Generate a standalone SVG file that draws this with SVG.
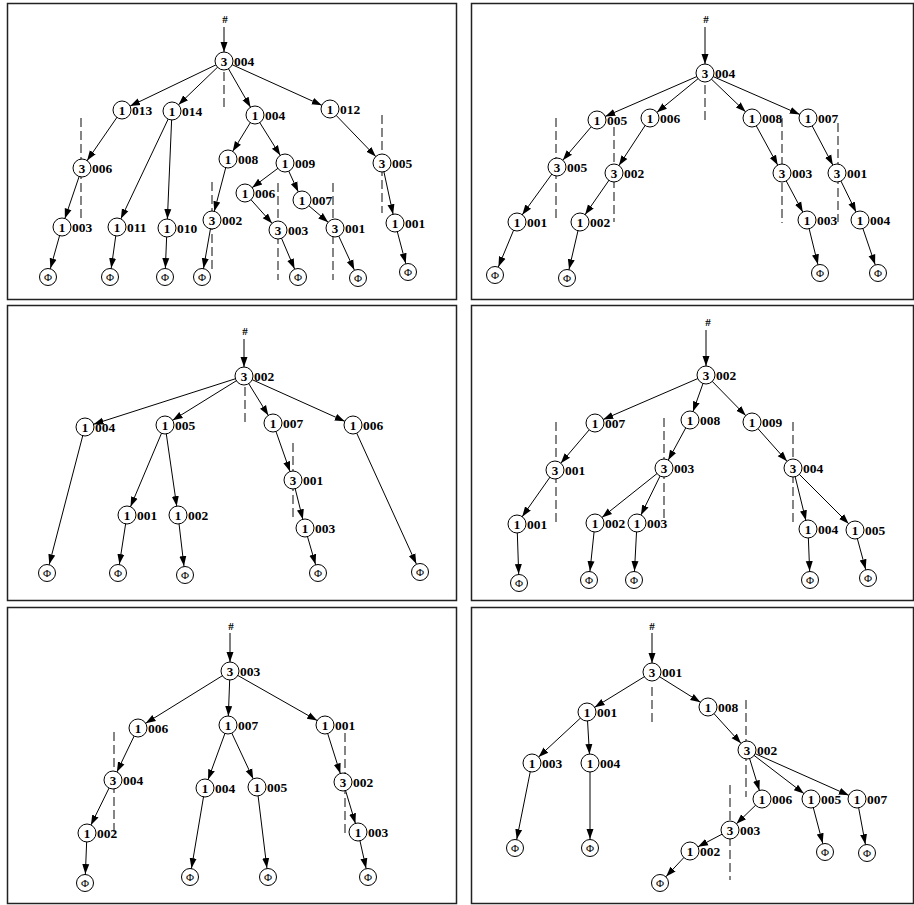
<svg xmlns="http://www.w3.org/2000/svg" width="914" height="905" viewBox="0 0 914 905">
<style>
.bg{fill:#fff}
.pan{fill:#fff;stroke:#222;stroke-width:1.5}
.e{stroke:#000;stroke-width:1;fill:none;marker-end:url(#ah)}
.d{stroke:#222;stroke-width:1.1;fill:none;stroke-dasharray:9,4}
circle{fill:#fff;stroke:#000;stroke-width:1}
.c{font-family:"Liberation Serif",serif;font-weight:bold;font-size:13px;text-anchor:middle}
.l{font-family:"Liberation Serif",serif;font-weight:bold;font-size:13.5px}
.h{font-family:"Liberation Serif",serif;font-weight:bold;font-size:11px;text-anchor:middle;fill:#000}
.f{font-family:"Liberation Serif",serif;font-size:11px;text-anchor:middle}
</style>
<defs>
<marker id="ah" markerUnits="userSpaceOnUse" markerWidth="30" markerHeight="10" viewBox="0 0 30 10" refX="19" refY="5" orient="auto"><path d="M0,1.5 L10,5 L0,8.5 z" fill="#000"/></marker>
</defs>
<rect class="bg" x="0" y="0" width="914" height="905"/>
<g id="panels">
<rect class="pan" x="7.5" y="3.5" width="449" height="296"/>
<rect class="pan" x="471.5" y="3.5" width="442" height="296"/>
<rect class="pan" x="7.5" y="305.5" width="449" height="295"/>
<rect class="pan" x="471.5" y="305.5" width="442" height="295"/>
<rect class="pan" x="7.5" y="607.5" width="449" height="296"/>
<rect class="pan" x="471.5" y="607.5" width="442" height="296"/>
</g>
<g id="connectors">
<!-- TL -->
<line class="e" x1="224" y1="27" x2="224" y2="61"/>
<line class="e" x1="224" y1="61" x2="122" y2="110"/>
<line class="e" x1="224" y1="61" x2="172" y2="111"/>
<line class="e" x1="224" y1="61" x2="255" y2="115"/>
<line class="e" x1="224" y1="61" x2="330" y2="109"/>
<line class="e" x1="122" y1="110" x2="82" y2="168"/>
<line class="e" x1="82" y1="168" x2="62" y2="227"/>
<line class="e" x1="62" y1="227" x2="48" y2="277"/>
<line class="e" x1="172" y1="111" x2="117" y2="227"/>
<line class="e" x1="172" y1="111" x2="167" y2="228"/>
<line class="e" x1="117" y1="227" x2="110" y2="277"/>
<line class="e" x1="167" y1="228" x2="165" y2="277"/>
<line class="e" x1="255" y1="115" x2="228" y2="159"/>
<line class="e" x1="255" y1="115" x2="285" y2="163"/>
<line class="e" x1="228" y1="159" x2="212" y2="220"/>
<line class="e" x1="212" y1="220" x2="202" y2="277"/>
<line class="e" x1="285" y1="163" x2="245" y2="193"/>
<line class="e" x1="285" y1="163" x2="302" y2="200"/>
<line class="e" x1="245" y1="193" x2="278" y2="230"/>
<line class="e" x1="278" y1="230" x2="298" y2="277"/>
<line class="e" x1="302" y1="200" x2="335" y2="228"/>
<line class="e" x1="335" y1="228" x2="358" y2="278"/>
<line class="e" x1="330" y1="109" x2="382" y2="163"/>
<line class="e" x1="382" y1="163" x2="395" y2="223"/>
<line class="e" x1="395" y1="223" x2="408" y2="272"/>
<line class="d" x1="224" y1="72" x2="224" y2="110"/>
<line class="d" x1="81" y1="118" x2="81" y2="220"/>
<line class="d" x1="212" y1="182" x2="212" y2="273"/>
<line class="d" x1="278" y1="183" x2="278" y2="280"/>
<line class="d" x1="333" y1="183" x2="333" y2="280"/>
<line class="d" x1="382" y1="115" x2="382" y2="213"/>
<!-- TR -->
<line class="e" x1="705" y1="27" x2="705" y2="73"/>
<line class="e" x1="705" y1="73" x2="597" y2="120"/>
<line class="e" x1="705" y1="73" x2="650" y2="118"/>
<line class="e" x1="705" y1="73" x2="752" y2="118"/>
<line class="e" x1="705" y1="73" x2="808" y2="118"/>
<line class="e" x1="597" y1="120" x2="557" y2="167"/>
<line class="e" x1="557" y1="167" x2="517" y2="222"/>
<line class="e" x1="517" y1="222" x2="495" y2="275"/>
<line class="e" x1="650" y1="118" x2="614" y2="173"/>
<line class="e" x1="614" y1="173" x2="580" y2="222"/>
<line class="e" x1="580" y1="222" x2="567" y2="278"/>
<line class="e" x1="752" y1="118" x2="782" y2="173"/>
<line class="e" x1="782" y1="173" x2="807" y2="220"/>
<line class="e" x1="807" y1="220" x2="820" y2="273"/>
<line class="e" x1="808" y1="118" x2="837" y2="173"/>
<line class="e" x1="837" y1="173" x2="860" y2="220"/>
<line class="e" x1="860" y1="220" x2="878" y2="273"/>
<line class="d" x1="705" y1="85" x2="705" y2="123"/>
<line class="d" x1="556" y1="118" x2="556" y2="220"/>
<line class="d" x1="614" y1="127" x2="614" y2="222"/>
<line class="d" x1="782" y1="118" x2="782" y2="223"/>
<line class="d" x1="838" y1="123" x2="838" y2="222"/>
<!-- ML -->
<line class="e" x1="244" y1="339" x2="244" y2="376"/>
<line class="e" x1="244" y1="376" x2="85" y2="427"/>
<line class="e" x1="244" y1="376" x2="165" y2="425"/>
<line class="e" x1="244" y1="376" x2="273" y2="423"/>
<line class="e" x1="244" y1="376" x2="353" y2="425"/>
<line class="e" x1="85" y1="427" x2="47" y2="573"/>
<line class="e" x1="165" y1="425" x2="127" y2="515"/>
<line class="e" x1="165" y1="425" x2="178" y2="515"/>
<line class="e" x1="127" y1="515" x2="118" y2="573"/>
<line class="e" x1="178" y1="515" x2="185" y2="575"/>
<line class="e" x1="273" y1="423" x2="293" y2="480"/>
<line class="e" x1="293" y1="480" x2="305" y2="528"/>
<line class="e" x1="305" y1="528" x2="318" y2="573"/>
<line class="e" x1="353" y1="425" x2="420" y2="572"/>
<line class="d" x1="245" y1="387" x2="245" y2="425"/>
<line class="d" x1="293" y1="443" x2="293" y2="518"/>
<!-- MR -->
<line class="e" x1="706" y1="330" x2="706" y2="375"/>
<line class="e" x1="706" y1="375" x2="595" y2="423"/>
<line class="e" x1="706" y1="375" x2="690" y2="420"/>
<line class="e" x1="706" y1="375" x2="752" y2="422"/>
<line class="e" x1="595" y1="423" x2="555" y2="470"/>
<line class="e" x1="555" y1="470" x2="517" y2="524"/>
<line class="e" x1="517" y1="524" x2="519" y2="583"/>
<line class="e" x1="690" y1="420" x2="664" y2="468"/>
<line class="e" x1="664" y1="468" x2="595" y2="523"/>
<line class="e" x1="664" y1="468" x2="637" y2="523"/>
<line class="e" x1="595" y1="523" x2="589" y2="580"/>
<line class="e" x1="637" y1="523" x2="634" y2="580"/>
<line class="e" x1="752" y1="422" x2="793" y2="468"/>
<line class="e" x1="793" y1="468" x2="808" y2="529"/>
<line class="e" x1="793" y1="468" x2="855" y2="530"/>
<line class="e" x1="808" y1="529" x2="810" y2="580"/>
<line class="e" x1="855" y1="530" x2="868" y2="578"/>
<line class="d" x1="556" y1="422" x2="556" y2="522"/>
<line class="d" x1="664" y1="418" x2="664" y2="522"/>
<line class="d" x1="793" y1="422" x2="793" y2="522"/>
<!-- BL -->
<line class="e" x1="230" y1="633" x2="230" y2="671"/>
<line class="e" x1="230" y1="671" x2="138" y2="728"/>
<line class="e" x1="230" y1="671" x2="228" y2="725"/>
<line class="e" x1="230" y1="671" x2="325" y2="725"/>
<line class="e" x1="138" y1="728" x2="113" y2="780"/>
<line class="e" x1="113" y1="780" x2="87" y2="833"/>
<line class="e" x1="87" y1="833" x2="85" y2="883"/>
<line class="e" x1="228" y1="725" x2="205" y2="788"/>
<line class="e" x1="228" y1="725" x2="257" y2="787"/>
<line class="e" x1="205" y1="788" x2="190" y2="877"/>
<line class="e" x1="257" y1="787" x2="268" y2="877"/>
<line class="e" x1="325" y1="725" x2="343" y2="782"/>
<line class="e" x1="343" y1="782" x2="358" y2="832"/>
<line class="e" x1="358" y1="832" x2="368" y2="877"/>
<line class="d" x1="114" y1="732" x2="114" y2="833"/>
<line class="d" x1="345" y1="733" x2="345" y2="833"/>
<!-- BR -->
<line class="e" x1="652" y1="633" x2="652" y2="672"/>
<line class="e" x1="652" y1="672" x2="587" y2="712"/>
<line class="e" x1="652" y1="672" x2="708" y2="707"/>
<line class="e" x1="587" y1="712" x2="532" y2="763"/>
<line class="e" x1="587" y1="712" x2="590" y2="763"/>
<line class="e" x1="532" y1="763" x2="515" y2="848"/>
<line class="e" x1="590" y1="763" x2="590" y2="848"/>
<line class="e" x1="708" y1="707" x2="747" y2="750"/>
<line class="e" x1="747" y1="750" x2="762" y2="799"/>
<line class="e" x1="747" y1="750" x2="811" y2="799"/>
<line class="e" x1="747" y1="750" x2="857" y2="799"/>
<line class="e" x1="762" y1="799" x2="730" y2="830"/>
<line class="e" x1="730" y1="830" x2="690" y2="851"/>
<line class="e" x1="690" y1="851" x2="660" y2="883"/>
<line class="e" x1="811" y1="799" x2="825" y2="852"/>
<line class="e" x1="857" y1="799" x2="867" y2="853"/>
<line class="d" x1="652" y1="687" x2="652" y2="723"/>
<line class="d" x1="746" y1="700" x2="746" y2="797"/>
<line class="d" x1="730" y1="785" x2="730" y2="880"/>
</g>
<g id="hashes">
<text class="h" x="225" y="23">#</text>
<text class="h" x="706" y="23">#</text>
<text class="h" x="245" y="335">#</text>
<text class="h" x="708" y="326">#</text>
<text class="h" x="231" y="630">#</text>
<text class="h" x="652" y="630">#</text>
</g>
<!-- TL nodes -->
<g id="tl-a"><circle cx="224" cy="61" r="9"/><text class="c" x="224" y="65.5">3</text><text class="l" x="234" y="65.5">004</text></g>
<g id="tl-b"><circle cx="122" cy="110" r="9"/><text class="c" x="122" y="114.5">1</text><text class="l" x="132" y="114.5">013</text></g>
<g id="tl-c"><circle cx="172" cy="111" r="9"/><text class="c" x="172" y="115.5">1</text><text class="l" x="182" y="115.5">014</text></g>
<g id="tl-d"><circle cx="255" cy="115" r="9"/><text class="c" x="255" y="119.5">1</text><text class="l" x="265" y="119.5">004</text></g>
<g id="tl-e"><circle cx="330" cy="109" r="9"/><text class="c" x="330" y="113.5">1</text><text class="l" x="340" y="113.5">012</text></g>
<g id="tl-f"><circle cx="82" cy="168" r="9"/><text class="c" x="82" y="172.5">3</text><text class="l" x="92" y="172.5">006</text></g>
<g id="tl-g"><circle cx="228" cy="159" r="9"/><text class="c" x="228" y="163.5">1</text><text class="l" x="238" y="163.5">008</text></g>
<g id="tl-h"><circle cx="285" cy="163" r="9"/><text class="c" x="285" y="167.5">1</text><text class="l" x="295" y="167.5">009</text></g>
<g id="tl-i"><circle cx="382" cy="163" r="9"/><text class="c" x="382" y="167.5">3</text><text class="l" x="392" y="167.5">005</text></g>
<g id="tl-j"><circle cx="245" cy="193" r="9"/><text class="c" x="245" y="197.5">1</text><text class="l" x="255" y="197.5">006</text></g>
<g id="tl-k"><circle cx="302" cy="200" r="9"/><text class="c" x="302" y="204.5">1</text><text class="l" x="312" y="204.5">007</text></g>
<g id="tl-l"><circle cx="212" cy="220" r="9"/><text class="c" x="212" y="224.5">3</text><text class="l" x="222" y="224.5">002</text></g>
<g id="tl-m"><circle cx="278" cy="230" r="9"/><text class="c" x="278" y="234.5">3</text><text class="l" x="288" y="234.5">003</text></g>
<g id="tl-n"><circle cx="335" cy="228" r="9"/><text class="c" x="335" y="232.5">3</text><text class="l" x="345" y="232.5">001</text></g>
<g id="tl-o"><circle cx="395" cy="223" r="9"/><text class="c" x="395" y="227.5">1</text><text class="l" x="405" y="227.5">001</text></g>
<g id="tl-p"><circle cx="62" cy="227" r="9"/><text class="c" x="62" y="231.5">1</text><text class="l" x="72" y="231.5">003</text></g>
<g id="tl-q"><circle cx="117" cy="227" r="9"/><text class="c" x="117" y="231.5">1</text><text class="l" x="127" y="231.5">011</text></g>
<g id="tl-r"><circle cx="167" cy="228" r="9"/><text class="c" x="167" y="232.5">1</text><text class="l" x="177" y="232.5">010</text></g>
<g id="tl-z1"><circle cx="48" cy="277" r="8.5"/><text class="f" x="48" y="281">Φ</text></g>
<g id="tl-z2"><circle cx="110" cy="277" r="8.5"/><text class="f" x="110" y="281">Φ</text></g>
<g id="tl-z3"><circle cx="165" cy="277" r="8.5"/><text class="f" x="165" y="281">Φ</text></g>
<g id="tl-z4"><circle cx="202" cy="277" r="8.5"/><text class="f" x="202" y="281">Φ</text></g>
<g id="tl-z5"><circle cx="298" cy="277" r="8.5"/><text class="f" x="298" y="281">Φ</text></g>
<g id="tl-z6"><circle cx="358" cy="278" r="8.5"/><text class="f" x="358" y="282">Φ</text></g>
<g id="tl-z7"><circle cx="408" cy="272" r="8.5"/><text class="f" x="408" y="276">Φ</text></g>
<!-- TR nodes -->
<g id="tr-a"><circle cx="705" cy="73" r="9"/><text class="c" x="705" y="77.5">3</text><text class="l" x="715" y="77.5">004</text></g>
<g id="tr-b"><circle cx="597" cy="120" r="9"/><text class="c" x="597" y="124.5">1</text><text class="l" x="607" y="124.5">005</text></g>
<g id="tr-c"><circle cx="650" cy="118" r="9"/><text class="c" x="650" y="122.5">1</text><text class="l" x="660" y="122.5">006</text></g>
<g id="tr-d"><circle cx="752" cy="118" r="9"/><text class="c" x="752" y="122.5">1</text><text class="l" x="762" y="122.5">008</text></g>
<g id="tr-e"><circle cx="808" cy="118" r="9"/><text class="c" x="808" y="122.5">1</text><text class="l" x="818" y="122.5">007</text></g>
<g id="tr-f"><circle cx="557" cy="167" r="9"/><text class="c" x="557" y="171.5">3</text><text class="l" x="567" y="171.5">005</text></g>
<g id="tr-g"><circle cx="614" cy="173" r="9"/><text class="c" x="614" y="177.5">3</text><text class="l" x="624" y="177.5">002</text></g>
<g id="tr-h"><circle cx="782" cy="173" r="9"/><text class="c" x="782" y="177.5">3</text><text class="l" x="792" y="177.5">003</text></g>
<g id="tr-i"><circle cx="837" cy="173" r="9"/><text class="c" x="837" y="177.5">3</text><text class="l" x="847" y="177.5">001</text></g>
<g id="tr-j"><circle cx="517" cy="222" r="9"/><text class="c" x="517" y="226.5">1</text><text class="l" x="527" y="226.5">001</text></g>
<g id="tr-k"><circle cx="580" cy="222" r="9"/><text class="c" x="580" y="226.5">1</text><text class="l" x="590" y="226.5">002</text></g>
<g id="tr-l"><circle cx="807" cy="220" r="9"/><text class="c" x="807" y="224.5">1</text><text class="l" x="817" y="224.5">003</text></g>
<g id="tr-m"><circle cx="860" cy="220" r="9"/><text class="c" x="860" y="224.5">1</text><text class="l" x="870" y="224.5">004</text></g>
<g id="tr-z1"><circle cx="495" cy="275" r="8.5"/><text class="f" x="495" y="279">Φ</text></g>
<g id="tr-z2"><circle cx="567" cy="278" r="8.5"/><text class="f" x="567" y="282">Φ</text></g>
<g id="tr-z3"><circle cx="820" cy="273" r="8.5"/><text class="f" x="820" y="277">Φ</text></g>
<g id="tr-z4"><circle cx="878" cy="273" r="8.5"/><text class="f" x="878" y="277">Φ</text></g>
<!-- ML nodes -->
<g id="ml-a"><circle cx="244" cy="376" r="9"/><text class="c" x="244" y="380.5">3</text><text class="l" x="254" y="380.5">002</text></g>
<g id="ml-b"><circle cx="85" cy="427" r="9"/><text class="c" x="85" y="431.5">1</text><text class="l" x="95" y="431.5">004</text></g>
<g id="ml-c"><circle cx="165" cy="425" r="9"/><text class="c" x="165" y="429.5">1</text><text class="l" x="175" y="429.5">005</text></g>
<g id="ml-d"><circle cx="273" cy="423" r="9"/><text class="c" x="273" y="427.5">1</text><text class="l" x="283" y="427.5">007</text></g>
<g id="ml-e"><circle cx="353" cy="425" r="9"/><text class="c" x="353" y="429.5">1</text><text class="l" x="363" y="429.5">006</text></g>
<g id="ml-f"><circle cx="293" cy="480" r="9"/><text class="c" x="293" y="484.5">3</text><text class="l" x="303" y="484.5">001</text></g>
<g id="ml-g"><circle cx="127" cy="515" r="9"/><text class="c" x="127" y="519.5">1</text><text class="l" x="137" y="519.5">001</text></g>
<g id="ml-h"><circle cx="178" cy="515" r="9"/><text class="c" x="178" y="519.5">1</text><text class="l" x="188" y="519.5">002</text></g>
<g id="ml-i"><circle cx="305" cy="528" r="9"/><text class="c" x="305" y="532.5">1</text><text class="l" x="315" y="532.5">003</text></g>
<g id="ml-z1"><circle cx="47" cy="573" r="8.5"/><text class="f" x="47" y="577">Φ</text></g>
<g id="ml-z2"><circle cx="118" cy="573" r="8.5"/><text class="f" x="118" y="577">Φ</text></g>
<g id="ml-z3"><circle cx="185" cy="575" r="8.5"/><text class="f" x="185" y="579">Φ</text></g>
<g id="ml-z4"><circle cx="318" cy="573" r="8.5"/><text class="f" x="318" y="577">Φ</text></g>
<g id="ml-z5"><circle cx="420" cy="572" r="8.5"/><text class="f" x="420" y="576">Φ</text></g>
<!-- MR nodes -->
<g id="mr-a"><circle cx="706" cy="375" r="9"/><text class="c" x="706" y="379.5">3</text><text class="l" x="716" y="379.5">002</text></g>
<g id="mr-b"><circle cx="595" cy="423" r="9"/><text class="c" x="595" y="427.5">1</text><text class="l" x="605" y="427.5">007</text></g>
<g id="mr-c"><circle cx="690" cy="420" r="9"/><text class="c" x="690" y="424.5">1</text><text class="l" x="700" y="424.5">008</text></g>
<g id="mr-d"><circle cx="752" cy="422" r="9"/><text class="c" x="752" y="426.5">1</text><text class="l" x="762" y="426.5">009</text></g>
<g id="mr-e"><circle cx="555" cy="470" r="9"/><text class="c" x="555" y="474.5">3</text><text class="l" x="565" y="474.5">001</text></g>
<g id="mr-f"><circle cx="664" cy="468" r="9"/><text class="c" x="664" y="472.5">3</text><text class="l" x="674" y="472.5">003</text></g>
<g id="mr-g"><circle cx="793" cy="468" r="9"/><text class="c" x="793" y="472.5">3</text><text class="l" x="803" y="472.5">004</text></g>
<g id="mr-h"><circle cx="517" cy="524" r="9"/><text class="c" x="517" y="528.5">1</text><text class="l" x="527" y="528.5">001</text></g>
<g id="mr-i"><circle cx="595" cy="523" r="9"/><text class="c" x="595" y="527.5">1</text><text class="l" x="605" y="527.5">002</text></g>
<g id="mr-j"><circle cx="637" cy="523" r="9"/><text class="c" x="637" y="527.5">1</text><text class="l" x="647" y="527.5">003</text></g>
<g id="mr-k"><circle cx="808" cy="529" r="9"/><text class="c" x="808" y="533.5">1</text><text class="l" x="818" y="533.5">004</text></g>
<g id="mr-l"><circle cx="855" cy="530" r="9"/><text class="c" x="855" y="534.5">1</text><text class="l" x="865" y="534.5">005</text></g>
<g id="mr-z1"><circle cx="519" cy="583" r="8.5"/><text class="f" x="519" y="587">Φ</text></g>
<g id="mr-z2"><circle cx="589" cy="580" r="8.5"/><text class="f" x="589" y="584">Φ</text></g>
<g id="mr-z3"><circle cx="634" cy="580" r="8.5"/><text class="f" x="634" y="584">Φ</text></g>
<g id="mr-z4"><circle cx="810" cy="580" r="8.5"/><text class="f" x="810" y="584">Φ</text></g>
<g id="mr-z5"><circle cx="868" cy="578" r="8.5"/><text class="f" x="868" y="582">Φ</text></g>
<!-- BL nodes -->
<g id="bl-a"><circle cx="230" cy="671" r="9"/><text class="c" x="230" y="675.5">3</text><text class="l" x="240" y="675.5">003</text></g>
<g id="bl-b"><circle cx="138" cy="728" r="9"/><text class="c" x="138" y="732.5">1</text><text class="l" x="148" y="732.5">006</text></g>
<g id="bl-c"><circle cx="228" cy="725" r="9"/><text class="c" x="228" y="729.5">1</text><text class="l" x="238" y="729.5">007</text></g>
<g id="bl-d"><circle cx="325" cy="725" r="9"/><text class="c" x="325" y="729.5">1</text><text class="l" x="335" y="729.5">001</text></g>
<g id="bl-e"><circle cx="113" cy="780" r="9"/><text class="c" x="113" y="784.5">3</text><text class="l" x="123" y="784.5">004</text></g>
<g id="bl-f"><circle cx="205" cy="788" r="9"/><text class="c" x="205" y="792.5">1</text><text class="l" x="215" y="792.5">004</text></g>
<g id="bl-g"><circle cx="257" cy="787" r="9"/><text class="c" x="257" y="791.5">1</text><text class="l" x="267" y="791.5">005</text></g>
<g id="bl-h"><circle cx="343" cy="782" r="9"/><text class="c" x="343" y="786.5">3</text><text class="l" x="353" y="786.5">002</text></g>
<g id="bl-i"><circle cx="87" cy="833" r="9"/><text class="c" x="87" y="837.5">1</text><text class="l" x="97" y="837.5">002</text></g>
<g id="bl-j"><circle cx="358" cy="832" r="9"/><text class="c" x="358" y="836.5">1</text><text class="l" x="368" y="836.5">003</text></g>
<g id="bl-z1"><circle cx="85" cy="883" r="8.5"/><text class="f" x="85" y="887">Φ</text></g>
<g id="bl-z2"><circle cx="190" cy="877" r="8.5"/><text class="f" x="190" y="881">Φ</text></g>
<g id="bl-z3"><circle cx="268" cy="877" r="8.5"/><text class="f" x="268" y="881">Φ</text></g>
<g id="bl-z4"><circle cx="368" cy="877" r="8.5"/><text class="f" x="368" y="881">Φ</text></g>
<!-- BR nodes -->
<g id="br-a"><circle cx="652" cy="672" r="9"/><text class="c" x="652" y="676.5">3</text><text class="l" x="662" y="676.5">001</text></g>
<g id="br-b"><circle cx="587" cy="712" r="9"/><text class="c" x="587" y="716.5">1</text><text class="l" x="597" y="716.5">001</text></g>
<g id="br-c"><circle cx="708" cy="707" r="9"/><text class="c" x="708" y="711.5">1</text><text class="l" x="718" y="711.5">008</text></g>
<g id="br-d"><circle cx="532" cy="763" r="9"/><text class="c" x="532" y="767.5">1</text><text class="l" x="542" y="767.5">003</text></g>
<g id="br-e"><circle cx="590" cy="763" r="9"/><text class="c" x="590" y="767.5">1</text><text class="l" x="600" y="767.5">004</text></g>
<g id="br-f"><circle cx="747" cy="750" r="9"/><text class="c" x="747" y="754.5">3</text><text class="l" x="757" y="754.5">002</text></g>
<g id="br-g"><circle cx="762" cy="799" r="9"/><text class="c" x="762" y="803.5">1</text><text class="l" x="772" y="803.5">006</text></g>
<g id="br-h"><circle cx="811" cy="799" r="9"/><text class="c" x="811" y="803.5">1</text><text class="l" x="821" y="803.5">005</text></g>
<g id="br-i"><circle cx="857" cy="799" r="9"/><text class="c" x="857" y="803.5">1</text><text class="l" x="867" y="803.5">007</text></g>
<g id="br-j"><circle cx="730" cy="830" r="9"/><text class="c" x="730" y="834.5">3</text><text class="l" x="740" y="834.5">003</text></g>
<g id="br-k"><circle cx="690" cy="851" r="9"/><text class="c" x="690" y="855.5">1</text><text class="l" x="700" y="855.5">002</text></g>
<g id="br-z1"><circle cx="515" cy="848" r="8.5"/><text class="f" x="515" y="852">Φ</text></g>
<g id="br-z2"><circle cx="590" cy="848" r="8.5"/><text class="f" x="590" y="852">Φ</text></g>
<g id="br-z3"><circle cx="660" cy="883" r="8.5"/><text class="f" x="660" y="887">Φ</text></g>
<g id="br-z4"><circle cx="825" cy="852" r="8.5"/><text class="f" x="825" y="856">Φ</text></g>
<g id="br-z5"><circle cx="867" cy="853" r="8.5"/><text class="f" x="867" y="857">Φ</text></g>
</svg>
